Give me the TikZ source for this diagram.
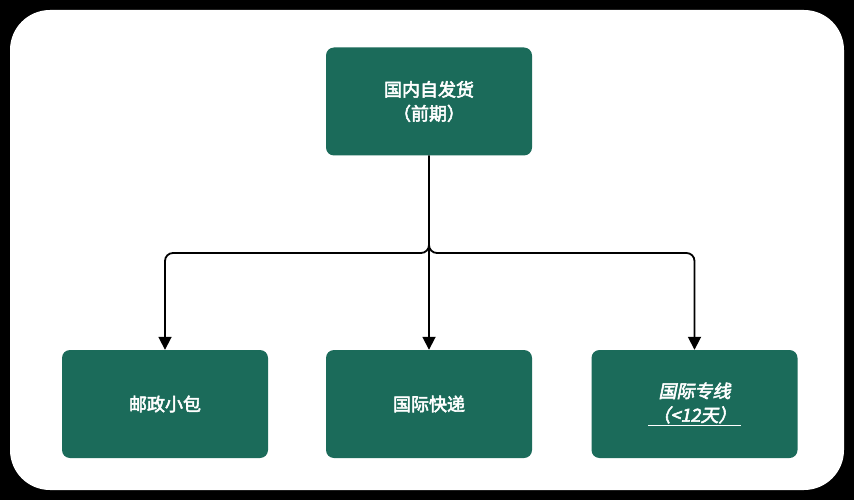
\documentclass[tikz,border=0pt]{standalone}
\usepackage{fontspec}
\newfontfamily\cjk[FakeBold=3]{Noto Sans CJK SC}
\newfontfamily\cjkit[FakeBold=3,FakeSlant=0.2]{Noto Sans CJK SC}
\usetikzlibrary{arrows.meta}
\definecolor{gr}{HTML}{1B6B5A}
\begin{document}
\begin{tikzpicture}[x=1pt,y=-1pt,
  box/.style={fill=gr,rounded corners=8pt,minimum width=206pt,minimum height=108pt,text=white,font=\cjk\fontsize{18}{24}\selectfont,align=center,inner sep=0pt},
  conn/.style={line width=1.8pt,rounded corners=8pt,-{Triangle[length=13pt,width=13pt]}}]
\fill[black] (0,0) rectangle (854,500);
\fill[white,rounded corners=40pt] (10,10) rectangle (844,490);
\node[box] (top) at (429,101.5) {国内自发货\\（前期）};
\node[box] (a) at (165,404) {邮政小包};
\node[box] (b) at (429,404) {国际快递};
\node[box,font=\cjkit\fontsize{18}{24}\selectfont] (c) at (694.5,404) {国际专线\\\underline{\ （<12天）\ }};
\draw[conn] (top.south) -- (b.north);
\draw[conn] (top.south) |- (165,253) -- (a.north);
\draw[conn] (top.south) |- (694.5,253) -- (c.north);
\end{tikzpicture}
\end{document}
